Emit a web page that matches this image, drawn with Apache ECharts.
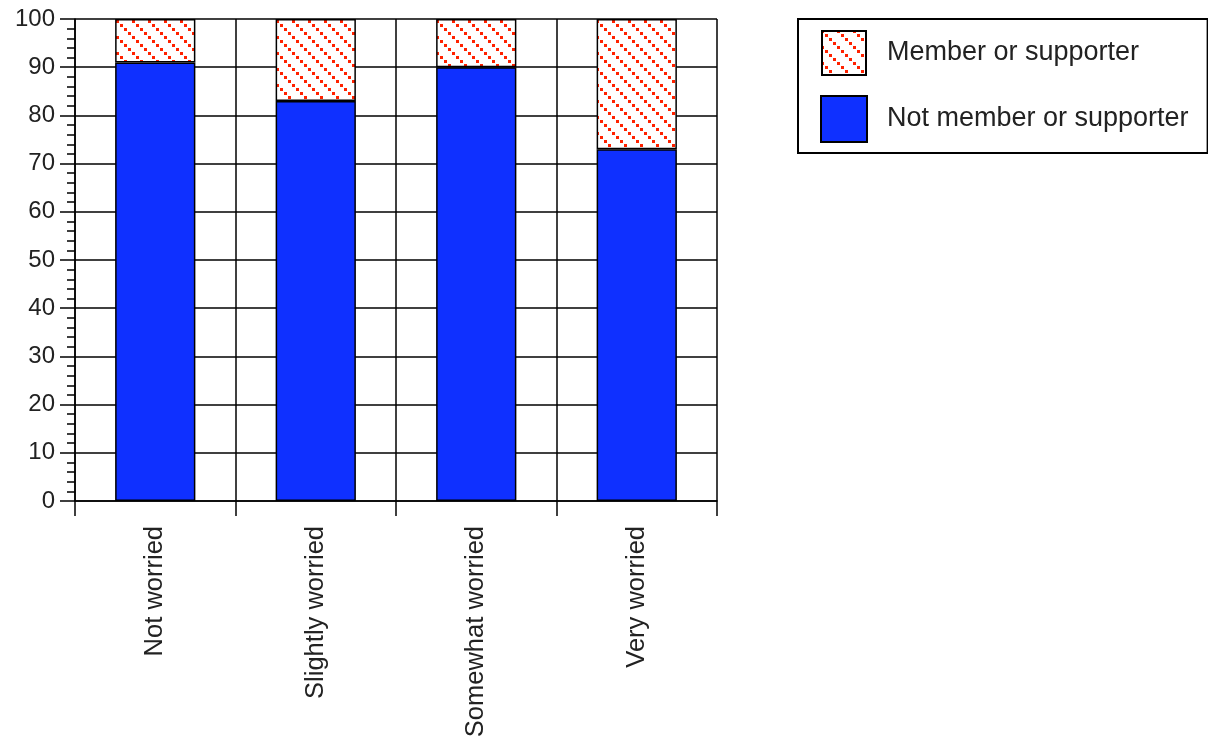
<!DOCTYPE html>
<html>
<head>
<meta charset="utf-8">
<script src="https://cdn.jsdelivr.net/npm/echarts@6/dist/echarts.min.js"></script>
<style>
html,body{margin:0;padding:0;background:#fff;}
#chart{width:1208px;height:744px;}
</style>
</head>
<body>
<div id="chart"></div>
<script>
const categories = ['Not worried', 'Slightly worried', 'Somewhat worried', 'Very worried'];
const notMember = [91, 83, 90, 73];
const member = [9, 17, 10, 27];
const yTicks = [0, 10, 20, 30, 40, 50, 60, 70, 80, 90, 100];

// hatch pattern: dotted red diagonal lines on white
const tile = document.createElement('canvas');
tile.width = 16; tile.height = 16;
const ctx = tile.getContext('2d');
ctx.fillStyle = '#ffffff';
ctx.fillRect(0, 0, 16, 16);
ctx.fillStyle = '#ff2200';
for (let i = 0; i < 4; i++) ctx.fillRect(i * 4, i * 4, 3, 3);

// legend swatch with the same hatch and a black border
const sw = document.createElement('canvas');
sw.width = 46; sw.height = 46;
const sctx = sw.getContext('2d');
sctx.fillStyle = sctx.createPattern(tile, 'repeat');
sctx.fillRect(0, 0, 46, 46);
sctx.strokeStyle = '#000';
sctx.lineWidth = 2;
sctx.strokeRect(1, 1, 44, 44);
const swatchUrl = 'image://' + sw.toDataURL();

const chart = echarts.init(document.getElementById('chart'), null, {renderer: 'canvas'});
const font = 'Liberation Sans, Arial, Helvetica, sans-serif';
chart.setOption({
  animation: false,
  backgroundColor: '#fff',
  grid: {left: 75, top: 19, right: 491, bottom: 243, containLabel: false},
  legend: {
    orient: 'vertical',
    left: 798, top: 19,
    data: [
      {name: 'Member or supporter', icon: swatchUrl},
      {name: 'Not member or supporter', icon: 'rect'}
    ],
    itemWidth: 46, itemHeight: 46,
    itemGap: 19,
    padding: [11, 19, 10, 22],
    borderColor: '#000', borderWidth: 2,
    textStyle: {fontFamily: font, fontSize: 27, color: '#222', padding: [0, 0, 0, 15]}
  },
  xAxis: {
    type: 'category',
    data: categories,
    boundaryGap: true,
    axisLine: {show: true, lineStyle: {color: '#000', width: 1.5}},
    axisTick: {show: true, length: 15, lineStyle: {color: '#000', width: 1.5}},
    splitLine: {show: true, lineStyle: {color: '#000', width: 1.5}},
    axisLabel: {rotate: 90, margin: 25, fontFamily: font, fontSize: 25.5, color: '#222'}
  },
  yAxis: {
    type: 'value',
    min: yTicks[0], max: yTicks[yTicks.length - 1], interval: 10,
    axisLine: {show: true, lineStyle: {color: '#000', width: 1.5}},
    axisTick: {show: true, length: 15, lineStyle: {color: '#000', width: 1.5}},
    minorTick: {show: true, splitNumber: 5, length: 8, lineStyle: {color: '#000', width: 1.5}},
    splitLine: {show: true, lineStyle: {color: '#000', width: 1.5}},
    axisLabel: {margin: 20, fontFamily: font, fontSize: 24, color: '#222'}
  },
  series: [
    {
      name: 'Not member or supporter', type: 'bar', stack: 'a', barWidth: '50%',
      data: notMember,
      itemStyle: {color: '#0f30ff', borderColor: '#000', borderWidth: 1.5}
    },
    {
      name: 'Member or supporter', type: 'bar', stack: 'a', barWidth: '50%',
      data: member,
      itemStyle: {color: {image: tile, repeat: 'repeat'}, borderColor: '#000', borderWidth: 1.5}
    }
  ]
});
</script>
</body>
</html>
